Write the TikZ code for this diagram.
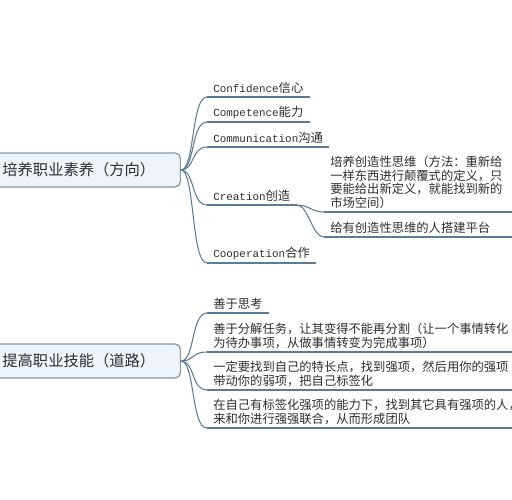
\documentclass[tikz,border=0pt]{standalone}
\usepackage{fontspec}
\setmainfont{Noto Sans CJK SC}
\newfontfamily\latinmono{Liberation Mono}
\newcommand\monotext[1]{{\latinmono\fontsize{6.2}{7.8}\selectfont #1}}
\definecolor{branchblue}{RGB}{92,124,150}
\definecolor{rootfill}{RGB}{239,244,249}
\definecolor{rootline}{RGB}{128,150,170}
\definecolor{inktext}{RGB}{45,45,45}

\begin{document}
\begin{tikzpicture}[x=0.02cm, y=-0.02cm,
  rootbox/.style={draw=rootline, fill=rootfill, rounded corners=3pt, line width=0.7pt, anchor=east,
    text width=3.1cm, align=left, inner xsep=0.46cm, minimum height=0.68cm,
    font=\fontsize{8.7}{10}\selectfont, text=inktext},
  leaf/.style={anchor=south west, align=left, inner xsep=0.12cm, inner ysep=0.06cm,
    font=\fontsize{7}{7.8}\selectfont, text=inktext},
  branch/.style={draw=branchblue, line width=0.6pt},
]
\useasboundingbox (0,0) rectangle (512,500);
\clip (0,0) rectangle (512,500);

% ---------------------------------------------------------------- direction
\node[rootbox] (r1) at (181,170) {培养职业素养（方向）};
\node[leaf] (c1) at (207,97) {\monotext{Confidence}信心};
\node[leaf] (c2) at (207,122) {\monotext{Competence}能力};
\node[leaf] (c3) at (207,147) {\monotext{Communication}沟通};
\node[leaf] (c4) at (207,205) {\monotext{Creation}创造};
\node[leaf] (c5) at (207,263) {\monotext{Cooperation}合作};
\node[leaf, text width=3.8cm] (c41) at (324,212) {培养创造性思维（方法：重新给\\一样东西进行颠覆式的定义，只\\要能给出新定义，就能找到新的\\市场空间）};
\node[leaf, text width=3.8cm] (c42) at (324,237) {给有创造性思维的人搭建平台};
\foreach \n in {c1,c2,c3,c4,c5}
  \draw[branch] (r1.east) .. controls +(14,0) and +(-16,0) .. (\n.south west);
\foreach \n in {c41,c42}
  \draw[branch] (c4.south east) .. controls +(12,0) and +(-12,0) .. (\n.south west);

% ---------------------------------------------------------------- road
\node[rootbox] (r2) at (181,361) {提高职业技能（道路）};
\node[leaf] (d1) at (207,313) {善于思考};
\node[leaf, text width=6.2cm] (d2) at (207,352) {善于分解任务，让其变得不能再分割（让一个事情转化\\为待办事项，从做事情转变为完成事项）};
\node[leaf, text width=6.2cm] (d3) at (207,390) {一定要找到自己的特长点，找到强项，然后用你的强项\\带动你的弱项，把自己标签化};
\node[leaf, text width=6.2cm] (d4) at (207,428) {在自己有标签化强项的能力下，找到其它具有强项的人，\\来和你进行强强联合，从而形成团队};
\foreach \n in {d1,d2,d3,d4}
  \draw[branch] (r2.east) .. controls +(14,0) and +(-16,0) .. (\n.south west);

% underlines
\foreach \n in {c1,c2,c3,c4,c5,c41,c42,d1,d2,d3,d4}
  \draw[branch] (\n.south west) -- (\n.south east);
\end{tikzpicture}
\end{document}
